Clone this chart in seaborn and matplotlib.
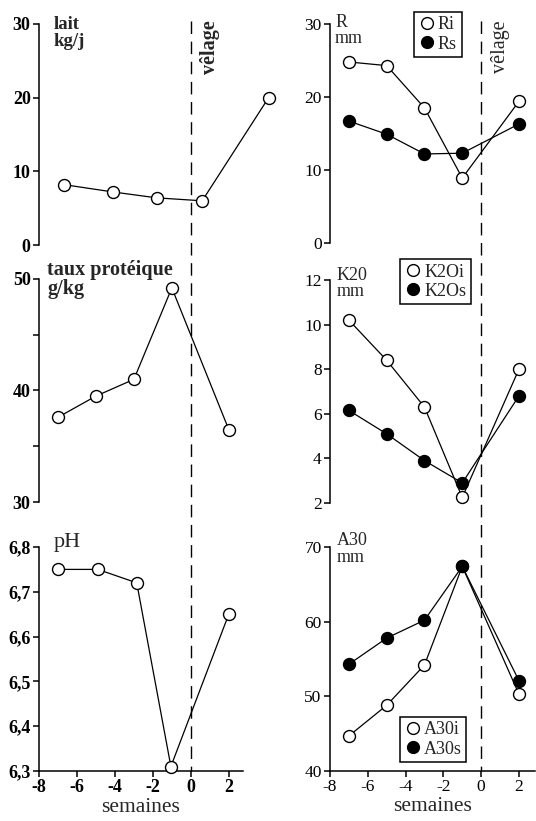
import matplotlib
matplotlib.use("Agg")
import matplotlib.pyplot as plt
import matplotlib.transforms as mtransforms
from matplotlib.lines import Line2D
import seaborn as sns
import pandas as pd

# ---------------- data ----------------
weeks = [-7, -5, -3, -1, 2]
lait_weeks = [-6.7, -4.1, -1.8, 0.6, 4.1]
lait = [8.2, 7.2, 6.4, 6.0, 20.0]
taux_proteique = [37.6, 39.5, 41.0, 49.2, 36.5]
ph_weeks = [-7, -4.9, -2.85, -1.05, 2]
ph = [6.75, 6.75, 6.72, 6.31, 6.65]
Ri = [24.8, 24.3, 18.5, 8.9, 19.4]
Rs = [16.7, 14.9, 12.2, 12.3, 16.3]
K2Oi = [10.2, 8.4, 6.3, 2.25, 8.0]
K2Os = [6.15, 5.1, 3.9, 2.9, 6.8]
A30i = [44.7, 48.8, 54.2, 67.4, 50.3]
A30s = [54.3, 57.8, 60.2, 67.4, 52.1]

x_ticks = [-8, -6, -4, -2, 0, 2]
x_ticklabels = ["-8", "-6", "-4", "-2", "0", "2"]
lait_ticks = [0, 10, 20, 30]
taux_ticks = [30, 40, 50]
taux_minor = [35, 45]
ph_ticks = [6.3, 6.4, 6.5, 6.6, 6.7, 6.8]
ph_ticklabels = ["6,3", "6,4", "6,5", "6,6", "6,7", "6,8"]
R_ticks = [0, 10, 20, 30]
K_ticks = [2, 4, 6, 8, 10, 12]
A_ticks = [40, 50, 60, 70]

sns.set_theme(style="ticks")
plt.rcParams['font.family'] = ['Liberation Serif', 'DejaVu Serif']
plt.rcParams['axes.linewidth'] = 1.1

W, H = 536, 821
fig = plt.figure(figsize=(W / 100, H / 100), dpi=100)

def fr(x0, y_top, x1, y_bot):
    return [x0 / W, 1 - y_bot / H, (x1 - x0) / W, (y_bot - y_top) / H]

axL1 = fig.add_axes(fr(39, 24, 243, 245))
axL2 = fig.add_axes(fr(39, 279, 243, 502))
axL3 = fig.add_axes(fr(39, 547, 243, 771))
axR1 = fig.add_axes(fr(330, 24, 535, 243))
axR2 = fig.add_axes(fr(330, 280, 535, 503))
axR3 = fig.add_axes(fr(330, 547, 535, 771))

open_kw = dict(color="black", marker="o", markersize=8.6, markeredgewidth=1.0,
               markerfacecolor="white", markeredgecolor="black", linewidth=0.9,
               clip_on=False, zorder=3)
fill_kw = dict(open_kw, markerfacecolor="black")

def series(ax, x, y, kw):
    df = pd.DataFrame({"x": x, "y": y})
    sns.lineplot(data=df, x="x", y="y", ax=ax, sort=False, estimator=None, **kw)

series(axL1, lait_weeks, lait, open_kw)
series(axL2, weeks, taux_proteique, open_kw)
series(axL3, ph_weeks, ph, open_kw)
series(axR1, weeks, Ri, open_kw)
series(axR1, weeks, Rs, fill_kw)
series(axR2, weeks, K2Oi, open_kw)
series(axR2, weeks, K2Os, fill_kw)
series(axR3, weeks, A30i, open_kw)
series(axR3, weeks, A30s, fill_kw)

left_axes = [axL1, axL2, axL3]
right_axes = [axR1, axR2, axR3]
yspecs = [(axL1, lait_ticks, None, (0, 30)), (axL2, taux_ticks, None, (30, 50)),
          (axL3, ph_ticks, ph_ticklabels, (6.3, 6.8)), (axR1, R_ticks, None, (0, 30)),
          (axR2, K_ticks, None, (2, 12)), (axR3, A_ticks, None, (40, 70))]

for ax, ticks, labels, lim in yspecs:
    bold = ax in left_axes
    ax.set_ylim(*lim)
    ax.set_yticks(ticks)
    if labels is None:
        labels = [str(t) for t in ticks]
    ax.set_yticklabels(labels, fontsize=13 if bold else 12.5,
                       fontweight="bold" if bold else "normal")
    ax.set_xlim(-8, 2.75 if bold else 2.85)
    ax.set_ylabel("")
    ax.set_xlabel("")
    ax.tick_params(axis="both", direction="out", length=4, width=1.1,
                   color="black", pad=2, labelcolor="black")
    for s in ["top", "right"]:
        ax.spines[s].set_visible(False)
    ax.spines["left"].set_color("black")
    ax.spines["bottom"].set_color("black")
    ax.patch.set_alpha(0)

axL2.set_yticks(taux_minor, minor=True)
axL2.tick_params(axis="y", which="minor", direction="out", length=4, width=1.1, color="black")

for ax in [axL1, axL2, axR1, axR2]:
    ax.spines["bottom"].set_visible(False)
    ax.set_xticks([])

for ax, bold in [(axL3, True), (axR3, False)]:
    ax.set_xticks(x_ticks)
    ax.set_xticklabels(x_ticklabels, fontsize=13 if bold else 12.5,
                       fontweight="bold" if bold else "normal")
    ax.set_xlabel("semaines", fontsize=15.5, labelpad=1)

# panel titles
def title(ax, txt, x, y, size, weight):
    ax.text(x, y, txt, transform=ax.transAxes, ha="left", va="top",
            fontsize=size, fontweight=weight, linespacing=0.95)

title(axL1, "lait\nkg/j", 0.07, 1.035, 13.5, "bold")
title(axL2, "taux protéique\ng/kg", 0.04, 1.085, 14.5, "bold")
title(axL3, "pH", 0.074, 1.062, 16, "normal")
title(axR1, "R\nmm", 0.025, 1.045, 13, "normal")
title(axR2, "K20\nmm", 0.034, 1.058, 13, "normal")
title(axR3, "A30\nmm", 0.034, 1.066, 13, "normal")

# vêlage dashed lines spanning each column
for top_ax, bot_ax, wt in [(axL1, axL3, "bold"), (axR1, axR3, "normal")]:
    tr = mtransforms.blended_transform_factory(bot_ax.transData, fig.transFigure)
    ln = Line2D([0, 0], [1 - 21 / H, 1 - 771 / H], transform=tr, color="black",
                linewidth=1.0, linestyle=(0, (9, 5.5)), zorder=1)
    fig.add_artist(ln)
    top_ax.text(0.5, 1.015, "vêlage", transform=mtransforms.blended_transform_factory(
        top_ax.transData, top_ax.transAxes), rotation=90, ha="left", va="top",
        fontsize=14.5, fontweight=wt)

# legends
def legend(ax, names, loc, anchor):
    hs = [Line2D([], [], linestyle="none", marker="o", markersize=8.5,
                 markeredgewidth=1.0, markeredgecolor="black", markerfacecolor=fc,
                 label=n) for n, fc in zip(names, ["white", "black"])]
    lg = ax.legend(handles=hs, loc=loc, bbox_to_anchor=anchor, frameon=True,
                   fancybox=False, edgecolor="black", framealpha=1, fontsize=13,
                   borderpad=0.25, handletextpad=0.1, handlelength=1.0,
                   labelspacing=0.12, borderaxespad=0)
    lg.get_frame().set_linewidth(1.1)

legend(axR1, ["Ri", "Rs"], "upper left", (0.408, 1.055))
legend(axR2, ["K2Oi", "K2Os"], "upper left", (0.34, 1.094))
legend(axR3, ["A30i", "A30s"], "lower left", (0.34, 0.04))

fig.savefig("out.png", dpi=100)
